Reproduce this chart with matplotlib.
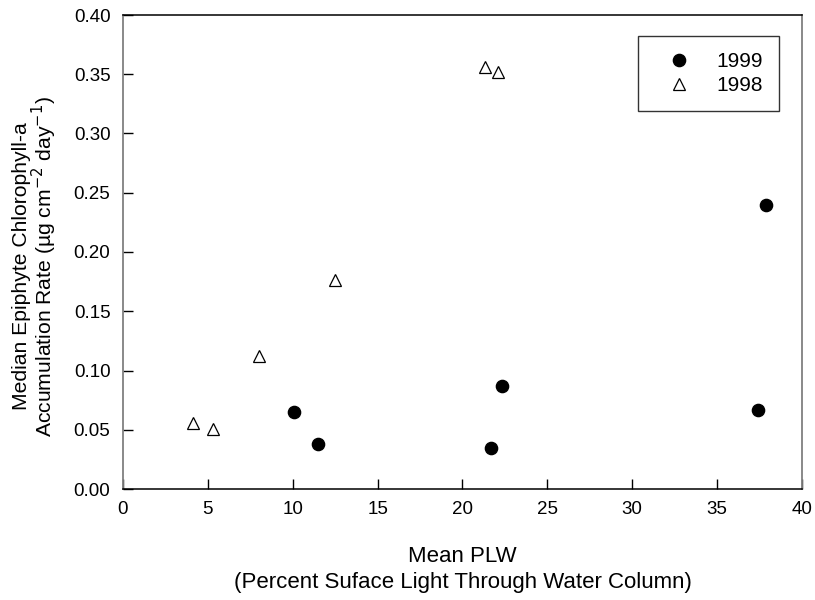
import numpy as np
import matplotlib.pyplot as plt

plt.rcParams['font.family'] = ['Liberation Sans', 'DejaVu Sans']

# 1999 (filled circles)
plw_1999 = [10.1, 11.5, 21.7, 22.3, 37.4, 37.9]
chl_1999 = [0.065, 0.038, 0.035, 0.087, 0.067, 0.240]

# 1998 (open triangles)
plw_1998 = [4.1, 5.3, 8.0, 12.5, 21.3, 22.1]
chl_1998 = [0.056, 0.051, 0.112, 0.176, 0.356, 0.352]

fig = plt.figure(figsize=(8.15, 6), dpi=100)
ax = fig.add_axes([0.1509, 0.185, 0.8331, 0.79])

ax.plot(plw_1999, chl_1999, 'o', ms=8.8, color='black', label='1999')
ax.plot(plw_1998, chl_1998, '^', ms=9, mfc='white', mec='black', mew=0.9,
        label='1998')

ax.set_xlim(0, 40)
ax.set_ylim(0, 0.40)
ax.set_xticks(np.arange(0, 41, 5))
ax.set_yticks(np.arange(0, 0.401, 0.05))
ax.set_yticklabels(['%.2f' % v for v in np.arange(0, 0.401, 0.05)])
ax.tick_params(direction='in', length=7, width=1, labelsize=13.5, pad=9,
               top=False, right=False)

for side in ['left', 'right']:
    ax.spines[side].set_color('#808080')
    ax.spines[side].set_linewidth(1.3)
for side in ['top', 'bottom']:
    ax.spines[side].set_color('black')
    ax.spines[side].set_linewidth(1.1)

ax.set_xlabel('Mean PLW\n(Percent Suface Light Through Water Column)',
              fontsize=16, labelpad=20, linespacing=1.3)
ax.set_ylabel('Median Epiphyte Chlorophyll-a\n'
              'Accumulation Rate (\u00b5g cm$^{-2}$ day$^{-1}$)',
              fontsize=15.2, linespacing=0.95)
ax.yaxis.set_label_coords(-0.094, 0.47)

leg = ax.legend(loc='upper right', bbox_to_anchor=(0.966, 0.956),
                borderaxespad=0, fontsize=15, fancybox=False,
                edgecolor='black', handletextpad=0.6, borderpad=0.77,
                labelspacing=0.25, handlelength=2.4)
leg.get_frame().set_linewidth(1.0)

fig.savefig('out.png', dpi=100)
